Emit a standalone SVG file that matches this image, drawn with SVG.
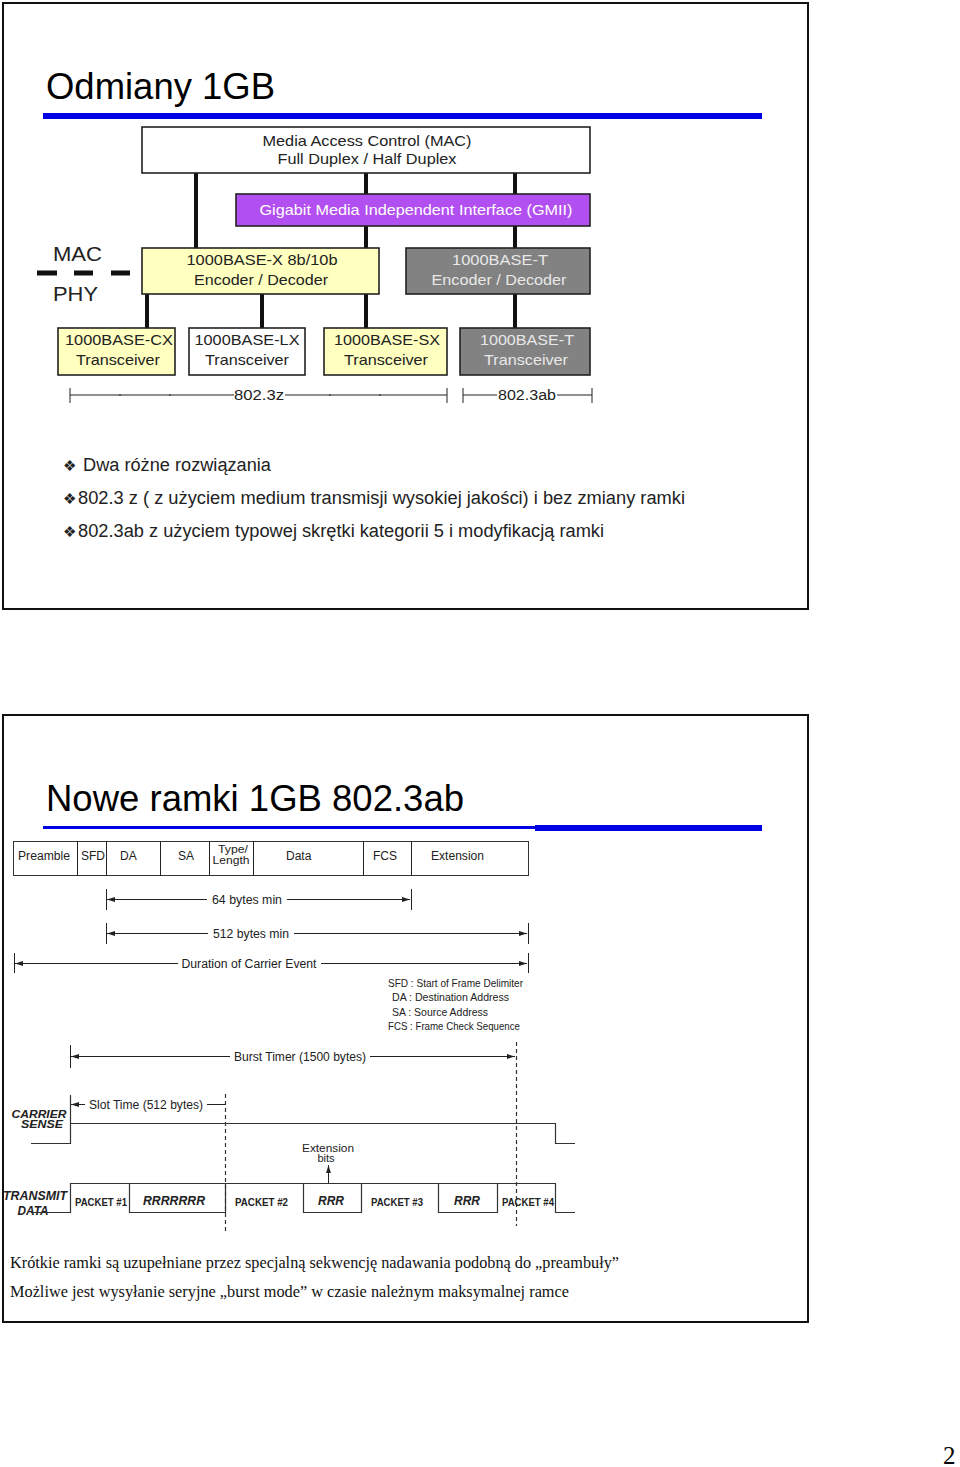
<svg xmlns="http://www.w3.org/2000/svg" width="960" height="1467" viewBox="0 0 960 1467">
<style>
.sans{font-family:"Liberation Sans",Arial,sans-serif;fill:#222}
.serif{font-family:"Liberation Serif","Times New Roman",serif;fill:#111}
.box{stroke:#222;stroke-width:1.6}
.conn{stroke:#111;stroke-width:4;fill:none}
.thin{stroke:#222;stroke-width:1;fill:none}
.wave{stroke:#333;stroke-width:1.2;fill:none}
.dash{stroke:#333;stroke-width:1.2;stroke-dasharray:4 3;fill:none}
.t15{font-size:15px;text-anchor:middle}
.t12{font-size:12px}
.t11{font-size:11px}
.pk{font-size:11px;font-weight:bold}
.rr{font-size:12px;font-weight:bold;font-style:italic}
.lbl{font-size:12px;font-weight:bold;font-style:italic}
.bul{font-family:"DejaVu Sans",sans-serif;font-size:15px;fill:#222}
</style>
<defs>
<marker id="ah" viewBox="0 0 10 6" refX="10" refY="3" markerWidth="8" markerHeight="5" orient="auto-start-reverse" markerUnits="userSpaceOnUse"><path d="M0,0 L10,3 L0,6 z" fill="#222"/></marker>
</defs>
<rect width="960" height="1467" fill="#fff"/>

<!-- Slide 1 -->
<g id="slide1">
<rect x="3" y="3" width="805" height="606" fill="none" stroke="#111" stroke-width="2"/>
<text class="sans" x="46" y="99" font-size="37" textLength="229" lengthAdjust="spacingAndGlyphs" style="fill:#000">Odmiany 1GB</text>
<rect x="43" y="113" width="719" height="6" fill="#0000e6"/>
</g>

<g id="connectors1">
<line class="conn" x1="196" y1="173" x2="196" y2="248"/>
<line class="conn" x1="366" y1="173" x2="366" y2="194"/>
<line class="conn" x1="366" y1="226" x2="366" y2="248"/>
<line class="conn" x1="515" y1="173" x2="515" y2="194"/>
<line class="conn" x1="515" y1="226" x2="515" y2="248"/>
<line class="conn" x1="147" y1="294" x2="147" y2="328"/>
<line class="conn" x1="262" y1="294" x2="262" y2="328"/>
<line class="conn" x1="366" y1="294" x2="366" y2="328"/>
<line class="conn" x1="515" y1="294" x2="515" y2="328"/>
</g>

<g id="mac">
<rect class="box" x="142" y="127" width="448" height="46" fill="#fff"/>
<text class="sans t15" x="367" y="146" textLength="209" lengthAdjust="spacingAndGlyphs">Media Access Control (MAC)</text>
<text class="sans t15" x="367" y="164" textLength="179" lengthAdjust="spacingAndGlyphs">Full Duplex / Half Duplex</text>
</g>
<g id="gmii">
<rect class="box" x="236" y="194" width="354" height="32" fill="#b24ff0"/>
<text class="sans t15" x="416" y="215" style="fill:#fff" textLength="313" lengthAdjust="spacingAndGlyphs">Gigabit Media Independent Interface (GMII)</text>
</g>
<g id="enc-x">
<rect class="box" x="142" y="248" width="237" height="46" fill="#ffffc0"/>
<text class="sans t15" x="262" y="265" textLength="151" lengthAdjust="spacingAndGlyphs">1000BASE-X 8b/10b</text>
<text class="sans t15" x="261" y="285" textLength="134" lengthAdjust="spacingAndGlyphs">Encoder / Decoder</text>
</g>
<g id="enc-t">
<rect class="box" x="406" y="248" width="184" height="46" fill="#828282"/>
<text class="sans t15" x="500" y="265" style="fill:#e8e8e8" textLength="96" lengthAdjust="spacingAndGlyphs">1000BASE-T</text>
<text class="sans t15" x="499" y="285" style="fill:#e8e8e8" textLength="135" lengthAdjust="spacingAndGlyphs">Encoder / Decoder</text>
</g>
<g id="cx">
<rect class="box" x="58" y="328" width="117" height="47" fill="#ffffc0"/>
<text class="sans t15" x="119" y="345" textLength="108" lengthAdjust="spacingAndGlyphs">1000BASE-CX</text>
<text class="sans t15" x="118" y="365" textLength="84" lengthAdjust="spacingAndGlyphs">Transceiver</text>
</g>
<g id="lx">
<rect class="box" x="189" y="328" width="116" height="47" fill="#fff"/>
<text class="sans t15" x="247" y="345" textLength="105" lengthAdjust="spacingAndGlyphs">1000BASE-LX</text>
<text class="sans t15" x="247" y="365" textLength="84" lengthAdjust="spacingAndGlyphs">Transceiver</text>
</g>
<g id="sx">
<rect class="box" x="324" y="328" width="123" height="47" fill="#ffffc0"/>
<text class="sans t15" x="387" y="345" textLength="106" lengthAdjust="spacingAndGlyphs">1000BASE-SX</text>
<text class="sans t15" x="386" y="365" textLength="84" lengthAdjust="spacingAndGlyphs">Transceiver</text>
</g>
<g id="tx-t">
<rect class="box" x="460" y="328" width="130" height="47" fill="#828282"/>
<text class="sans t15" x="527" y="345" style="fill:#e8e8e8" textLength="94" lengthAdjust="spacingAndGlyphs">1000BASE-T</text>
<text class="sans t15" x="526" y="365" style="fill:#e8e8e8" textLength="84" lengthAdjust="spacingAndGlyphs">Transceiver</text>
</g>
<g id="macphy">
<text class="sans" x="53" y="261" font-size="20" textLength="49" lengthAdjust="spacingAndGlyphs">MAC</text>
<text class="sans" x="53" y="301" font-size="20" textLength="45" lengthAdjust="spacingAndGlyphs">PHY</text>
<g stroke="#111" stroke-width="5">
<line x1="37" y1="273" x2="57" y2="273"/>
<line x1="74" y1="273" x2="93" y2="273"/>
<line x1="111" y1="273" x2="130" y2="273"/>
</g>
</g>
<g id="dims1" class="thin">
<line x1="70" y1="388" x2="70" y2="403"/>
<line x1="70" y1="395" x2="234" y2="395"/>
<line x1="285" y1="395" x2="447" y2="395"/>
<line x1="447" y1="388" x2="447" y2="403"/>
<line x1="463" y1="388" x2="463" y2="403"/>
<line x1="463" y1="395" x2="497" y2="395"/>
<line x1="557" y1="395" x2="592" y2="395"/>
<line x1="592" y1="388" x2="592" y2="403"/>
<g stroke-width="1"><line x1="120" y1="394" x2="120" y2="396"/><line x1="170" y1="394" x2="170" y2="396"/><line x1="330" y1="394" x2="330" y2="396"/><line x1="380" y1="394" x2="380" y2="396"/></g>
</g>
<text class="sans" x="259" y="400" font-size="14" text-anchor="middle" textLength="50" lengthAdjust="spacingAndGlyphs">802.3z</text>
<text class="sans" x="527" y="400" font-size="14" text-anchor="middle" textLength="58" lengthAdjust="spacingAndGlyphs">802.3ab</text>

<g id="bullets1">
<text class="bul" x="63" y="471">❖</text>
<text class="sans" x="83" y="471" font-size="18" textLength="188" lengthAdjust="spacingAndGlyphs">Dwa różne rozwiązania</text>
<text class="bul" x="63" y="504">❖</text>
<text class="sans" x="78" y="504" font-size="18" textLength="607" lengthAdjust="spacingAndGlyphs">802.3 z ( z użyciem medium transmisji wysokiej jakości) i bez zmiany ramki</text>
<text class="bul" x="63" y="537">❖</text>
<text class="sans" x="78" y="537" font-size="18" textLength="526" lengthAdjust="spacingAndGlyphs">802.3ab z użyciem typowej skrętki kategorii 5 i modyfikacją ramki</text>
</g>

<!-- Slide 2 -->
<g id="slide2">
<rect x="3" y="715" width="805" height="607" fill="none" stroke="#111" stroke-width="2"/>
<text class="sans" x="46" y="811" font-size="37" style="fill:#000" textLength="418" lengthAdjust="spacingAndGlyphs">Nowe ramki 1GB 802.3ab</text>
<rect x="43" y="826" width="492" height="3" fill="#0000e6"/>
<rect x="535" y="825" width="227" height="6" fill="#0000e6"/>
</g>

<g id="frame">
<rect x="13.5" y="841.5" width="515" height="34" fill="#fff" stroke="#333" stroke-width="1"/>
<g class="thin" stroke="#333">
<line x1="77.5" y1="841.5" x2="77.5" y2="875.5"/>
<line x1="106.5" y1="841.5" x2="106.5" y2="875.5"/>
<line x1="160.5" y1="841.5" x2="160.5" y2="875.5"/>
<line x1="209.5" y1="841.5" x2="209.5" y2="875.5"/>
<line x1="253.5" y1="841.5" x2="253.5" y2="875.5"/>
<line x1="363.5" y1="841.5" x2="363.5" y2="875.5"/>
<line x1="411.5" y1="841.5" x2="411.5" y2="875.5"/>
</g>
<text class="sans t12" x="18" y="860" textLength="52" lengthAdjust="spacingAndGlyphs">Preamble</text>
<text class="sans t12" x="81" y="860" textLength="24" lengthAdjust="spacingAndGlyphs">SFD</text>
<text class="sans t12" x="120" y="860">DA</text>
<text class="sans t12" x="178" y="860">SA</text>
<text class="sans" font-size="11" x="233" y="853" text-anchor="middle" textLength="30" lengthAdjust="spacingAndGlyphs">Type/</text>
<text class="sans" font-size="11" x="231" y="864" text-anchor="middle" textLength="37" lengthAdjust="spacingAndGlyphs">Length</text>
<text class="sans t12" x="286" y="860">Data</text>
<text class="sans t12" x="373" y="860">FCS</text>
<text class="sans t12" x="431" y="860" textLength="53" lengthAdjust="spacingAndGlyphs">Extension</text>
</g>

<g id="frame-dims" class="thin" stroke="#222">
<line x1="106.5" y1="889" x2="106.5" y2="910"/>
<line x1="411.5" y1="889" x2="411.5" y2="910"/>
<line x1="107" y1="899.5" x2="207" y2="899.5" marker-start="url(#ah)"/>
<line x1="287" y1="899.5" x2="410" y2="899.5" marker-end="url(#ah)"/>
<line x1="106.5" y1="923" x2="106.5" y2="944"/>
<line x1="528.5" y1="923" x2="528.5" y2="944"/>
<line x1="107" y1="933.5" x2="208" y2="933.5" marker-start="url(#ah)"/>
<line x1="294" y1="933.5" x2="527" y2="933.5" marker-end="url(#ah)"/>
<line x1="14.5" y1="953" x2="14.5" y2="973"/>
<line x1="528.5" y1="953" x2="528.5" y2="973"/>
<line x1="15" y1="963.5" x2="178" y2="963.5" marker-start="url(#ah)"/>
<line x1="321" y1="963.5" x2="527" y2="963.5" marker-end="url(#ah)"/>
</g>
<text class="sans t12" x="247" y="903.5" text-anchor="middle" textLength="70" lengthAdjust="spacingAndGlyphs">64 bytes min</text>
<text class="sans t12" x="251" y="937.5" text-anchor="middle" textLength="76" lengthAdjust="spacingAndGlyphs">512 bytes min</text>
<text class="sans t12" x="249" y="967.5" text-anchor="middle" textLength="135" lengthAdjust="spacingAndGlyphs">Duration of Carrier Event</text>

<g id="legend">
<text class="sans t11" x="388" y="987" textLength="135" lengthAdjust="spacingAndGlyphs">SFD : Start of Frame Delimiter</text>
<text class="sans t11" x="392" y="1001" textLength="117" lengthAdjust="spacingAndGlyphs">DA :  Destination Address</text>
<text class="sans t11" x="392" y="1016" textLength="96" lengthAdjust="spacingAndGlyphs">SA :  Source Address</text>
<text class="sans t11" x="388" y="1030" textLength="132" lengthAdjust="spacingAndGlyphs">FCS : Frame Check Sequence</text>
</g>

<g id="timing">
<line class="thin" x1="70.5" y1="1045" x2="70.5" y2="1068"/>
<line class="thin" x1="71" y1="1056.5" x2="230" y2="1056.5" marker-start="url(#ah)"/>
<line class="thin" x1="370" y1="1056.5" x2="515" y2="1056.5" marker-end="url(#ah)"/>
<text class="sans t12" x="300" y="1060.5" text-anchor="middle" textLength="132" lengthAdjust="spacingAndGlyphs">Burst Timer (1500 bytes)</text>
<line class="dash" x1="516.5" y1="1042" x2="516.5" y2="1226"/>
<line class="dash" x1="225.5" y1="1094" x2="225.5" y2="1232"/>
<line class="thin" x1="71" y1="1104.5" x2="85" y2="1104.5" marker-start="url(#ah)"/>
<line class="thin" x1="207" y1="1104.5" x2="225" y2="1104.5"/>
<text class="sans t12" x="146" y="1108.5" text-anchor="middle" textLength="114" lengthAdjust="spacingAndGlyphs">Slot Time (512 bytes)</text>
<text class="sans" font-size="11" font-weight="bold" font-style="italic" x="39" y="1118" text-anchor="middle" textLength="55" lengthAdjust="spacingAndGlyphs">CARRIER</text>
<text class="sans" font-size="11" font-weight="bold" font-style="italic" x="42" y="1128" text-anchor="middle" textLength="42" lengthAdjust="spacingAndGlyphs">SENSE</text>
<path class="wave" d="M31,1143.5 H70.5 V1095 M70.5,1123.5 H555.5 V1143.5 H575"/>
<text class="sans t11" x="328" y="1152" text-anchor="middle" textLength="52" lengthAdjust="spacingAndGlyphs">Extension</text>
<text class="sans t11" x="326" y="1162" text-anchor="middle">bits</text>
<line class="thin" x1="328.5" y1="1183" x2="328.5" y2="1165" marker-end="url(#ah)"/>
<text class="sans lbl" x="35" y="1200" text-anchor="middle" textLength="64" lengthAdjust="spacingAndGlyphs">TRANSMIT</text>
<text class="sans lbl" x="33" y="1215" text-anchor="middle" textLength="31" lengthAdjust="spacingAndGlyphs">DATA</text>
<path class="wave" d="M31,1212.5 H70.5 V1183.5 H555.5 V1212.5 H575 M129.5,1183.5 V1212.5 H225.5 V1183.5 M303.5,1183.5 V1212.5 H361.5 V1183.5 M438.5,1183.5 V1212.5 H497.5 V1183.5"/>
<text class="sans pk" x="75" y="1206" textLength="52" lengthAdjust="spacingAndGlyphs">PACKET #1</text>
<text class="sans rr" x="143" y="1205" textLength="62" lengthAdjust="spacingAndGlyphs">RRRRRRR</text>
<text class="sans pk" x="235" y="1206" textLength="53" lengthAdjust="spacingAndGlyphs">PACKET #2</text>
<text class="sans rr" x="318" y="1205" textLength="26" lengthAdjust="spacingAndGlyphs">RRR</text>
<text class="sans pk" x="371" y="1206" textLength="52" lengthAdjust="spacingAndGlyphs">PACKET #3</text>
<text class="sans rr" x="454" y="1205" textLength="26" lengthAdjust="spacingAndGlyphs">RRR</text>
<text class="sans pk" x="502" y="1206" textLength="52" lengthAdjust="spacingAndGlyphs">PACKET #4</text>
</g>

<g id="notes2">
<text class="serif" x="10" y="1268" font-size="16" textLength="609" lengthAdjust="spacingAndGlyphs">Krótkie ramki są uzupełniane przez specjalną sekwencję nadawania podobną do „preambuły”</text>
<text class="serif" x="10" y="1297" font-size="16" textLength="559" lengthAdjust="spacingAndGlyphs">Możliwe jest wysyłanie seryjne „burst mode” w czasie należnym maksymalnej ramce</text>
</g>
<text class="serif" x="943" y="1464" font-size="25" style="fill:#000">2</text>
</svg>
